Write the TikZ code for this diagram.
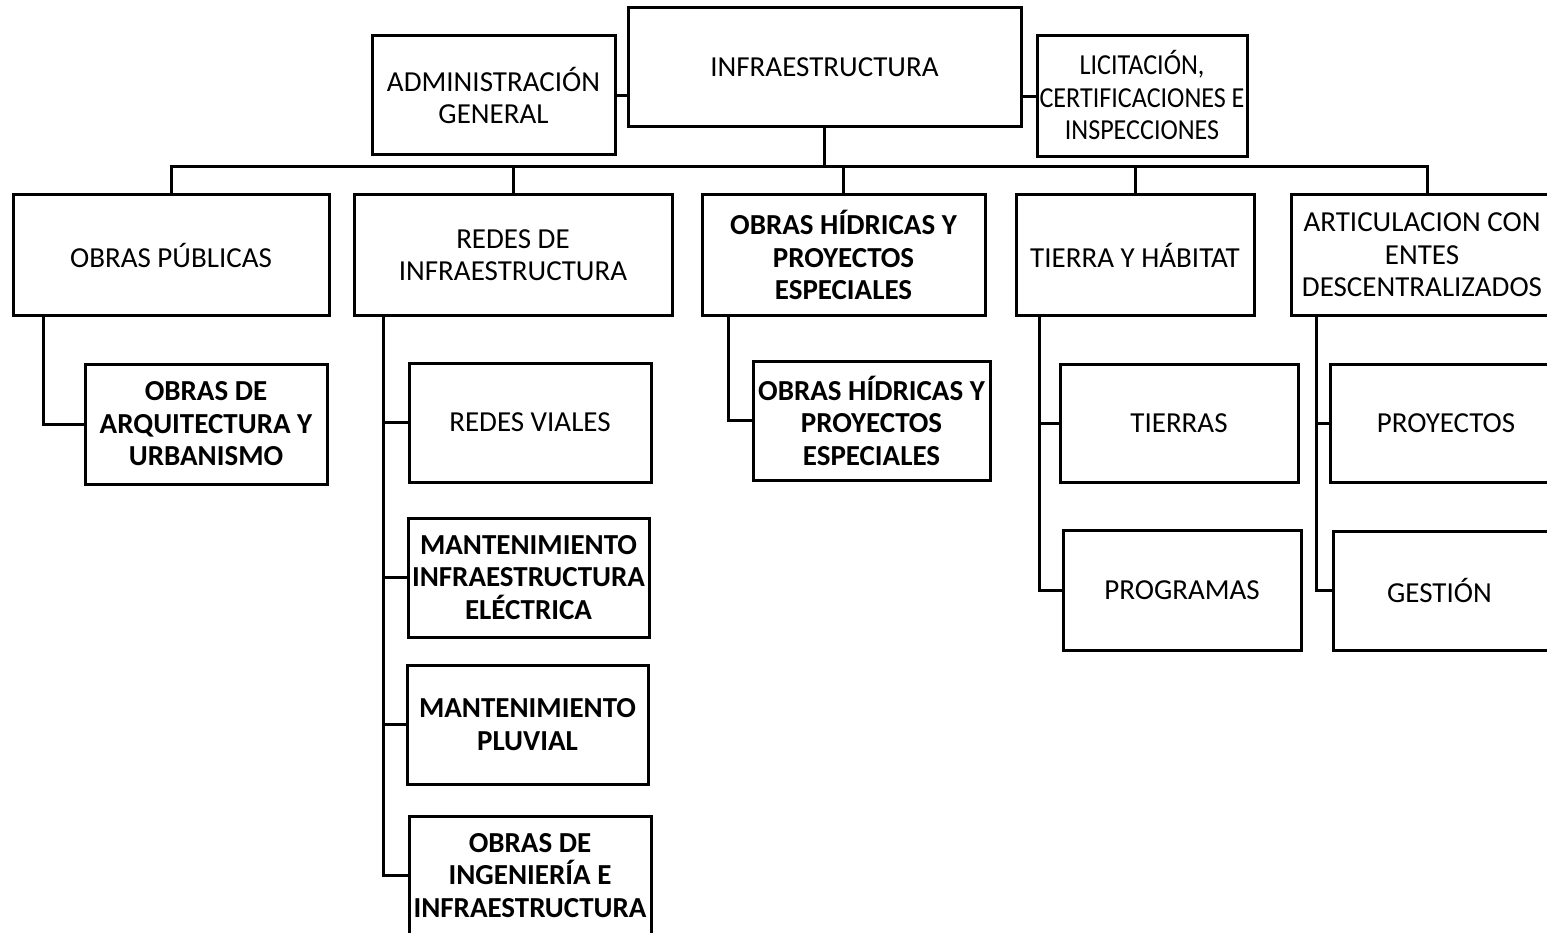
\documentclass[tikz,border=0pt]{standalone}
\usepackage{fontspec}
\setmainfont{Carlito}
\begin{document}
\begin{tikzpicture}[x=1pt,y=-1pt,
  box/.style={draw=black, line width=3pt, fill=white, inner sep=0pt, align=center,
    font=\fontsize{29}{32.5}\selectfont},
  bbox/.style={box, font=\fontsize{29}{32.5}\selectfont\bfseries},
  conn/.style={draw=black, line width=3pt}]
\useasboundingbox (0,0) rectangle (1547,933);
\clip (0,0) rectangle (1547,933);
\fill[white] (0,0) rectangle (1547,933);
% top row
\node[box, minimum width=393pt, minimum height=119pt] (inf) at (824.5,67.5) {INFRAESTRUCTURA};
\node[box, minimum width=243pt, minimum height=119pt] (adm) at (493.5,95.5) {ADMINISTRACIÓN\\GENERAL};
\node[box, minimum width=210pt, minimum height=121pt] (lic) at (1142,96.5) {\raisebox{0pt}[\dimexpr\height+7pt\relax][\depth]{\scalebox{0.9}[1]{\begin{tabular}{@{}c@{}}LICITACIÓN,\\CERTIFICACIONES E\\INSPECCIONES\end{tabular}}}};
% level 1
\node[box, minimum width=316pt, minimum height=120pt] (op) at (171,255) {OBRAS PÚBLICAS};
\node[box, minimum width=318pt, minimum height=120pt] (redes) at (513,255) {REDES DE\\INFRAESTRUCTURA};
\node[bbox, minimum width=283pt, minimum height=120pt] (hid) at (843.5,255) {OBRAS HÍDRICAS Y\\PROYECTOS\\ESPECIALES};
\node[box, minimum width=238pt, minimum height=120pt] (tyh) at (1135,255) {TIERRA Y HÁBITAT};
\node[box, minimum width=262pt, minimum height=120pt] (art) at (1422,255) {ARTICULACION CON\\ENTES\\DESCENTRALIZADOS};
% level 2
\node[bbox, minimum width=242pt, minimum height=120pt] (arq) at (206,424) {OBRAS DE\\ARQUITECTURA Y\\URBANISMO};
\node[box, minimum width=242pt, minimum height=119pt] (viales) at (530,422.5) {REDES VIALES};
\node[bbox, minimum width=241pt, minimum height=119pt] (elec) at (528.5,577.5) {MANTENIMIENTO\\INFRAESTRUCTURA\\ELÉCTRICA};
\node[bbox, minimum width=241pt, minimum height=119pt] (pluv) at (527.5,724.5) {MANTENIMIENTO\\PLUVIAL};
\node[bbox, minimum width=242pt, minimum height=119pt] (ingen) at (530,875.5) {OBRAS DE\\INGENIERÍA E\\INFRAESTRUCTURA};
\node[bbox, minimum width=237pt, minimum height=119pt] (hid2) at (871.5,420.5) {OBRAS HÍDRICAS Y\\PROYECTOS\\ESPECIALES};
\node[box, minimum width=238pt, minimum height=118pt] (tierras) at (1179,423) {TIERRAS};
\node[box, minimum width=238pt, minimum height=120pt] (prog) at (1182,590) {PROGRAMAS};
\node[box, minimum width=232pt, minimum height=118pt] (proy) at (1446,423) {PROYECTOS};
\node[box, minimum width=229pt, minimum height=119pt] (gest) at (1447.5,590.5) {GESTIÓN\hspace*{16pt}};
% connectors top
\coordinate (bus) at (824.5,167);
\coordinate (artn) at ([xshift=5pt]art.north);
\draw[conn] (adm.east) -- (adm.east -| inf.west);
\draw[conn] (lic.west) -- (lic.west -| inf.east);
\draw[conn] (inf.south) -- (bus);
\draw[conn] (op.north) -- (op.north |- bus) -- (artn |- bus) -- (artn);
\draw[conn] (redes.north) -- (redes.north |- bus);
\draw[conn] (hid.north) -- (hid.north |- bus);
\draw[conn] (tyh.north) -- (tyh.north |- bus);
% sub-branches
\coordinate (opl) at ([xshift=32pt]op.south west);
\draw[conn] (opl) |- (arq.west);
\coordinate (rl) at ([xshift=31pt]redes.south west);
\draw[conn] (rl) |- (ingen.west);
\draw[conn] (viales.west) -- (viales.west -| rl);
\draw[conn] (elec.west) -- (elec.west -| rl);
\draw[conn] (pluv.west) -- (pluv.west -| rl);
\coordinate (hl) at ([xshift=28pt]hid.south west);
\draw[conn] (hl) |- (hid2.west);
\coordinate (tl) at ([xshift=25pt]tyh.south west);
\draw[conn] (tl) |- (prog.west);
\draw[conn] (tierras.west) -- (tierras.west -| tl);
\coordinate (al) at ([xshift=27pt]art.south west);
\draw[conn] (al) |- (gest.west);
\draw[conn] (proy.west) -- (proy.west -| al);
\end{tikzpicture}
\end{document}
